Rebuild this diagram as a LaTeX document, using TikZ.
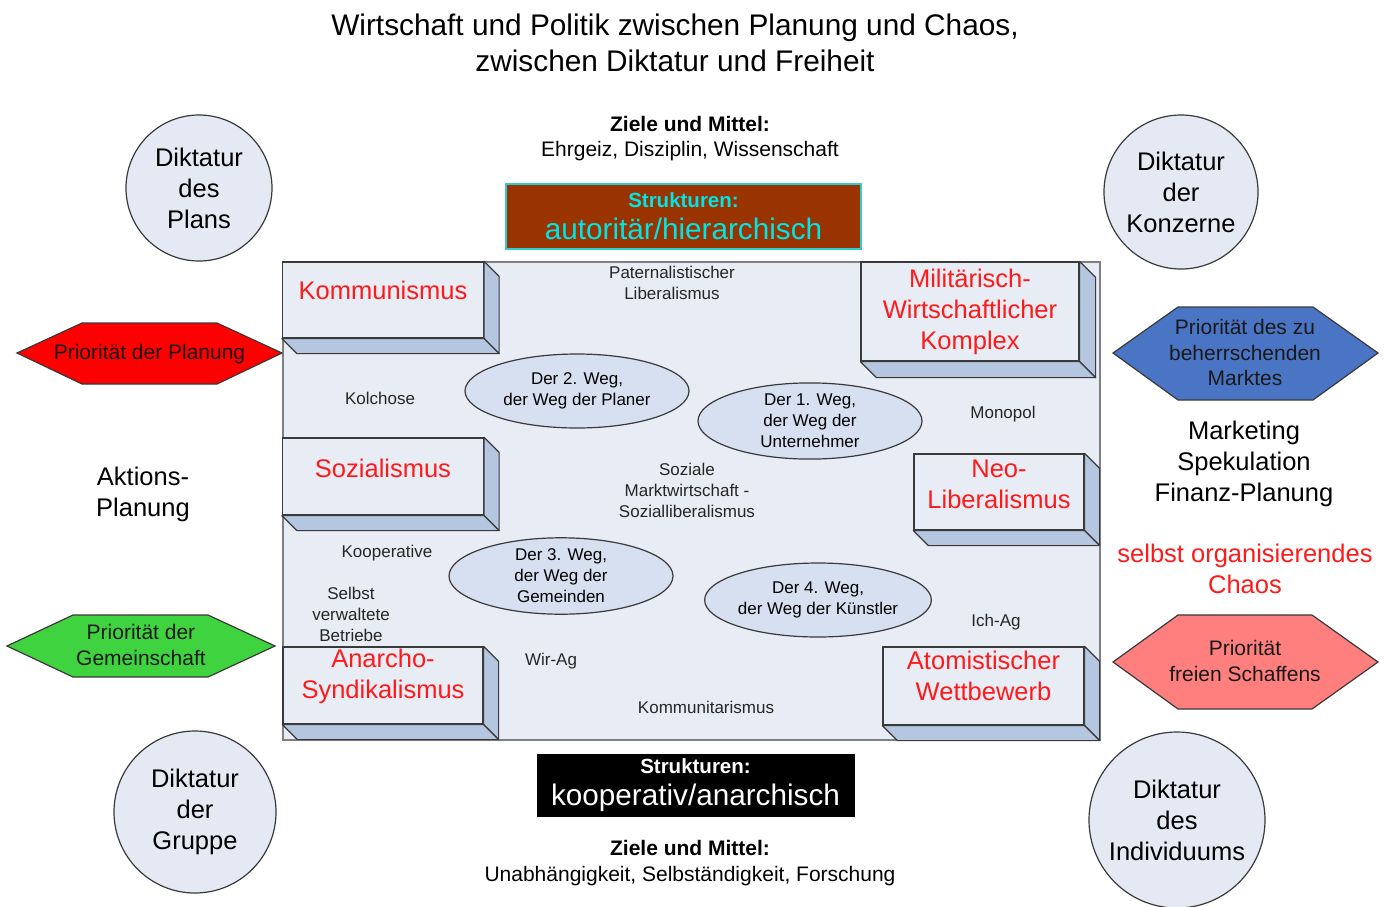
\documentclass[tikz,border=0pt]{standalone}
\usepackage{fontspec}
\setmainfont{Liberation Sans}
\usetikzlibrary{shapes.geometric,calc}
\newcommand\fsz[2]{\fontsize{#1pt}{#2pt}\selectfont}
\definecolor{framefill}{HTML}{E8ECF5}
\definecolor{depthfill}{HTML}{B4C6E0}
\definecolor{ellfill}{HTML}{D6E0F0}
\definecolor{circfill}{HTML}{E4E9F3}
\definecolor{redtxt}{HTML}{FF1A1A}
\definecolor{brownbox}{HTML}{993300}
\definecolor{cyanline}{HTML}{33CCCC}
\definecolor{cyantxt}{HTML}{00E5E5}
\definecolor{redhex}{HTML}{FF0000}
\definecolor{bluehex}{HTML}{4A74C4}
\definecolor{greenhex}{HTML}{3FD43F}
\definecolor{pinkhex}{HTML}{FF7F7F}
\definecolor{edge}{HTML}{3A3A3A}
\newcommand\threed[6]{% name, cx, cy, w, h, depth
  \node[frontbox, minimum width=#4pt, minimum height=#5pt] (#1) at (#2,#3) {};
  \draw[depthface] (#1.north east) -- ++(#6,#6) -- ($(#1.south east)+(#6,#6)$) -- (#1.south east) -- cycle;
  \draw[depthface] (#1.south west) -- (#1.south east) -- ++(#6,#6) -- ($(#1.south west)+(#6,#6)$) -- cycle;
}
\begin{document}
\begin{tikzpicture}[x=1pt,y=-1pt,
  mainframe/.style={draw=gray, fill=framefill, line width=1.3pt},
  frontbox/.style={draw=edge, fill=framefill, line width=1.2pt, inner sep=0pt},
  depthface/.style={draw=edge, fill=depthfill, line width=1.2pt, line join=round},
  redlabel/.style={text=redtxt, align=center, font=\fsz{25.5}{31}},
  smalltxt/.style={text=black!85, align=center, font=\fsz{17}{21}},
  sidetxt/.style={align=center, font=\fsz{25.5}{31}},
  wayell/.style={ellipse, draw=edge, fill=ellfill, line width=1.2pt, minimum width=224pt, minimum height=74pt, inner sep=0pt, align=center, font=\fsz{17}{21}},
  dictcirc/.style={circle, draw=edge, fill=circfill, line width=1.2pt, inner sep=0pt, align=center, font=\fsz{25.5}{31}},
  hexshape/.style={draw=edge, line width=1.2pt, line join=miter},
  hextxt/.style={align=center, text=black!90, font=\fsz{21}{25.5}},
  goaltxt/.style={align=center, font=\fsz{21}{25.5}},
  strbox/.style={inner sep=0pt, align=center, font=\fsz{29.7}{32}}
]
\useasboundingbox[fill=white] (0,0) rectangle (1385,906);

% title
\node[align=center, font=\fsz{29.8}{36}] (title) at (675,43) {Wirtschaft und Politik zwischen Planung und Chaos,\\zwischen Diktatur und Freiheit};

% goals
\node[goaltxt] (goaltop) at (690,138.5) {\textbf{Ziele und Mittel:}\\Ehrgeiz, Disziplin, Wissenschaft};
\node[goaltxt] (goalbot) at (690,863) {\textbf{Ziele und Mittel:}\\Unabhängigkeit, Selbständigkeit, Forschung};

% structure boxes
\node[strbox, draw=cyanline, fill=brownbox, line width=1.5pt, minimum width=355pt, minimum height=65pt, text=cyantxt] (strtop) at (683.5,216.5)
  {{\bfseries\fsz{20.5}{22}Strukturen:}\\autoritär/hierarchisch};
\node[strbox, draw=black, fill=black, minimum width=317pt, minimum height=62pt, text=white] (strbot) at (695.5,785)
  {{\bfseries\fsz{20.5}{22}Strukturen:}\\kooperativ/anarchisch};

% main frame
\node[mainframe, minimum width=817pt, minimum height=478pt, inner sep=0pt] (frame) at (691.5,501) {};

% 3D boxes
\threed{komm}{383}{300}{201}{76}{15}
\threed{mil}{970}{311.5}{218}{99}{16}
\threed{soz}{383}{476.5}{201}{77}{15}
\threed{neo}{999}{492}{170}{76}{15}
\threed{anar}{383}{685.5}{200}{77}{15}
\threed{atom}{983.5}{686}{201}{78}{15}

\node[redlabel] (kommt) at ([yshift=10pt]komm.center) {Kommunismus};
\node[redlabel] (milt) at (mil.center) {Militärisch-\\Wirtschaftlicher\\Komplex};
\node[redlabel] (sozt) at ([yshift=8.5pt]soz.center) {Sozialismus};
\node[redlabel] (neot) at ([yshift=8pt]neo.center) {Neo-\\Liberalismus};
\node[redlabel] (anart) at ([yshift=9.5pt]anar.center) {Anarcho-\\Syndikalismus};
\node[redlabel] (atomt) at ([yshift=10pt]atom.center) {Atomistischer\\Wettbewerb};

% ellipses
\node[wayell] (weg2) at (577,391) {Der 2. Weg,\\der Weg der Planer};
\node[wayell] (weg1) at (810,421) {Der 1. Weg,\\der Weg der\\Unternehmer};
\node[wayell] (weg3) at (561,576) {Der 3. Weg,\\der Weg der\\Gemeinden};
\node[wayell] (weg4) at (818,600) {Der 4. Weg,\\der Weg der Künstler};

% small texts
\node[smalltxt] (pat) at (672,283) {Paternalistischer\\Liberalismus};
\node[smalltxt] (kol) at (380,398) {Kolchose};
\node[smalltxt] (mon) at (1003,414) {Monopol};
\node[smalltxt] (smw) at (687,490) {Soziale\\Marktwirtschaft -\\Sozialliberalismus};
\node[smalltxt] (koop) at (387,553) {Kooperative};
\node[smalltxt] (svb) at (351,614) {Selbst\\verwaltete\\Betriebe};
\node[smalltxt] (wir) at (551,661) {Wir-Ag};
\node[smalltxt] (ich) at (996,622) {Ich-Ag};
\node[smalltxt] (kmt) at (706,707) {Kommunitarismus};

% side texts
\node[sidetxt] (akt) at (143,494) {Aktions-\\Planung};
\node[sidetxt] (mark) at (1244,464) {Marketing\\Spekulation\\Finanz-Planung};
\node[sidetxt, text=redtxt] (chaos) at (1245,568.5) {selbst organisierendes\\Chaos};

% circles
\node[dictcirc, minimum size=146pt] (plans) at (199,188) {Diktatur\\des\\Plans};
\node[dictcirc, minimum size=154pt] (konz) at (1181,192) {Diktatur\\der\\Konzerne};
\node[dictcirc, minimum size=162pt] (grup) at (195,812) {Diktatur\\der\\Gruppe};
\node[dictcirc, minimum size=176pt] (indiv) at (1177,820) {Diktatur\\des\\Individuums};

% hexagons
\draw[hexshape, fill=redhex] (17,353) -- (82,323) -- (217,323) -- (282,353) -- (217,384) -- (82,384) -- cycle;
\node[hextxt] (hred) at (149.5,354) {Priorität der Planung};
\draw[hexshape, fill=bluehex] (1113,353) -- (1178,307) -- (1313,307) -- (1378,353) -- (1313,400) -- (1178,400) -- cycle;
\node[hextxt] (hblue) at (1245,352.5) {Priorität des zu\\beherrschenden\\Marktes};
\draw[hexshape, fill=greenhex] (7,646) -- (73,615) -- (208,615) -- (275,646) -- (208,677) -- (73,677) -- cycle;
\node[hextxt] (hgreen) at (141,645) {Priorität der\\Gemeinschaft};
\draw[hexshape, fill=pinkhex] (1113,662) -- (1178,615) -- (1312,615) -- (1378,662) -- (1312,709) -- (1178,709) -- cycle;
\node[hextxt] (hpink) at (1245,661) {Priorität\\freien Schaffens};
\end{tikzpicture}
\end{document}
